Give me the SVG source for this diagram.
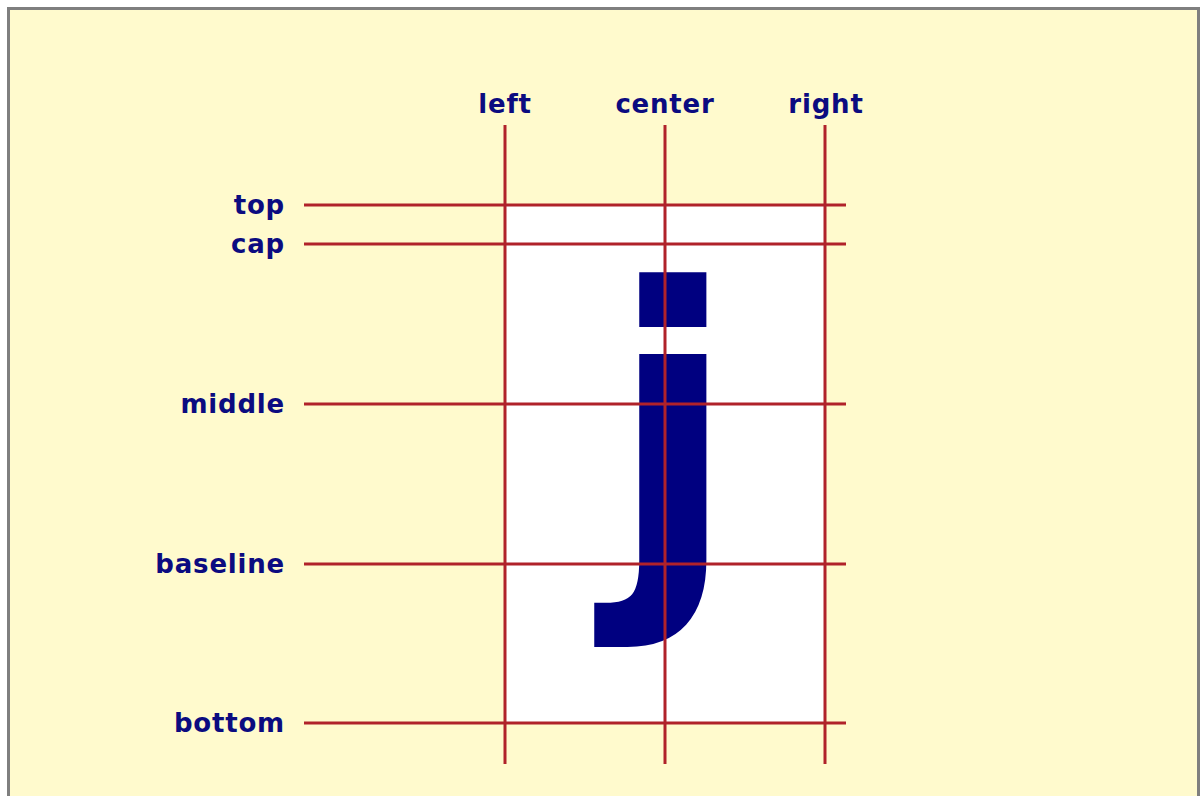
<svg xmlns="http://www.w3.org/2000/svg" width="1202" height="796" viewBox="0 0 1202 796">
  <style>
    .lbl { font-family: "DejaVu Sans", Verdana, sans-serif; font-weight: bold; font-size: 26px; letter-spacing: 0.8px; fill: #0b0b80; }
    .rl { text-anchor: end; }
    .tl { text-anchor: middle; }
    .guide { stroke: #b0222a; stroke-width: 3; fill: none; }
    .glyph { font-family: "DejaVu Sans", Verdana, sans-serif; font-weight: bold; font-size: 384px; fill: #000080; }
  </style>
  <rect x="0" y="0" width="1202" height="796" fill="#ffffff"/>
  <rect x="8.5" y="8.5" width="1190" height="800" fill="#fffacd" stroke="#7f7f7f" stroke-width="3"/>
  <g id="box">
    <rect x="505" y="205" width="320" height="518" fill="#ffffff"/>
  </g>
  <g id="glyph">
    <text class="glyph" x="607" y="564">j</text>
  </g>
  <g id="connectors">
    <line class="guide" x1="505" y1="125" x2="505" y2="764"/>
    <line class="guide" x1="665" y1="125" x2="665" y2="764"/>
    <line class="guide" x1="825" y1="125" x2="825" y2="764"/>
    <line class="guide" x1="304" y1="205" x2="846" y2="205"/>
    <line class="guide" x1="304" y1="244" x2="846" y2="244"/>
    <line class="guide" x1="304" y1="404" x2="846" y2="404"/>
    <line class="guide" x1="304" y1="564" x2="846" y2="564"/>
    <line class="guide" x1="304" y1="723" x2="846" y2="723"/>
  </g>
  <g id="label-left"><text class="lbl tl" x="505" y="113">left</text></g>
  <g id="label-center"><text class="lbl tl" x="665" y="113">center</text></g>
  <g id="label-right"><text class="lbl tl" x="826" y="113">right</text></g>
  <g id="label-top"><text class="lbl rl" x="285" y="214">top</text></g>
  <g id="label-cap"><text class="lbl rl" x="285" y="253">cap</text></g>
  <g id="label-middle"><text class="lbl rl" x="285" y="413">middle</text></g>
  <g id="label-baseline"><text class="lbl rl" x="285" y="573">baseline</text></g>
  <g id="label-bottom"><text class="lbl rl" x="285" y="732">bottom</text></g>
</svg>
